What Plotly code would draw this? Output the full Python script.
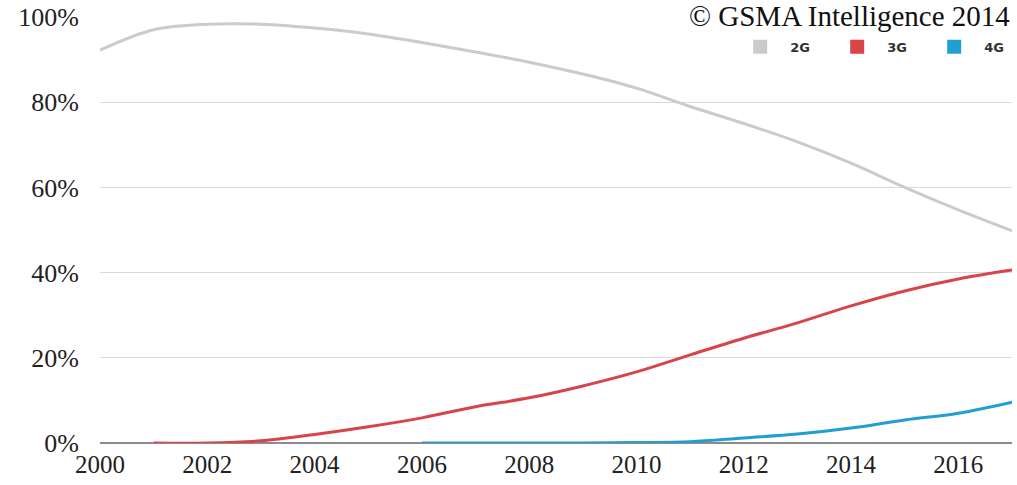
import plotly.graph_objects as go

years = list(range(2000, 2018))
g2 = [92.2, 97.0, 98.3, 98.3, 97.4, 96.0, 94.0, 91.8, 89.4, 86.6, 83.3, 79.0, 75.0, 70.7, 65.7, 60.0, 54.7, 49.8]
g3 = [None, 0.0, 0.0, 0.5, 2.0, 3.8, 5.9, 8.5, 10.6, 13.4, 16.7, 20.7, 24.6, 28.2, 32.2, 35.7, 38.5, 40.6]
g4 = [None, None, None, None, None, None, 0.0, 0.0, 0.0, 0.0, 0.1, 0.3, 1.2, 2.1, 3.5, 5.4, 7.0, 9.6]
names = ["2G", "3G", "4G"]
colors = ["#cbcbcb", "#d9434a", "#1f9fd4"]
y_ticks = [0, 20, 40, 60, 80, 100]
y_labels = ["0%", "20%", "40%", "60%", "80%", "100%"]
x_ticks = list(range(2000, 2017, 2))

fig = go.Figure()
for name, vals, c in zip(names, [g2, g3, g4], colors):
    fig.add_trace(go.Scatter(x=years, y=vals, mode="lines", line=dict(color=c, width=3, shape="spline"),
                             showlegend=False, name=name))
for name, c in zip(names, colors):
    fig.add_trace(go.Scatter(x=[None], y=[None], mode="markers", name=name,
                             marker=dict(symbol="square", size=14, color=c)))

fig.update_layout(
    width=1017, height=485,
    margin=dict(l=100, r=5, t=17, b=42, autoexpand=False),
    plot_bgcolor="white", paper_bgcolor="white",
    font=dict(family="Liberation Serif", size=26, color="#222"),
    legend=dict(orientation="h", x=0.691, y=0.93, xanchor="left", yanchor="middle",
                entrywidth=32, font=dict(family="DejaVu Sans", size=13, color="#333", weight="bold"),
                bgcolor="rgba(0,0,0,0)", itemwidth=50),
    annotations=[dict(text="© GSMA Intelligence 2014", xref="paper", yref="paper", x=1.0, y=1.045,
                      xanchor="right", yanchor="top", showarrow=False,
                      font=dict(family="Liberation Serif", size=29, color="#111"))],
)
fig.update_xaxes(range=[2000, 2017], tickvals=x_ticks, showgrid=False, zeroline=False,
                 showline=False, ticks="", tickfont=dict(size=25), ticklabelstandoff=4)
fig.update_yaxes(range=[0, 100], tickvals=y_ticks, ticktext=y_labels, showgrid=True, gridcolor="#d9d9d9",
                 gridwidth=1, zeroline=True, zerolinecolor="#8c8c8c", zerolinewidth=2,
                 ticks="", ticklabelstandoff=20, tickfont=dict(size=26))
fig.write_html("out.html")
